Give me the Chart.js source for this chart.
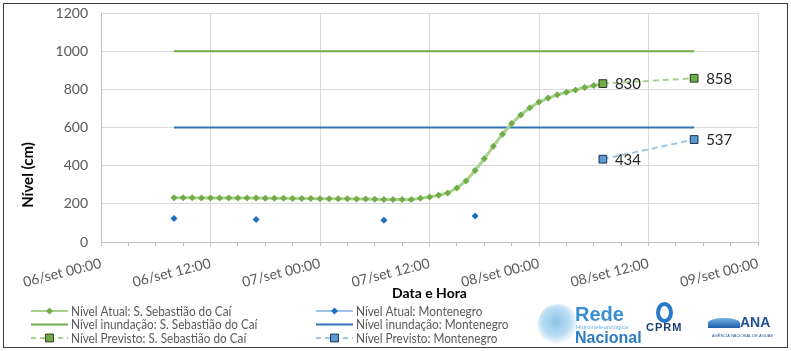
<!DOCTYPE html>
<html>
<head>
<meta charset="utf-8">
<script src="https://cdn.jsdelivr.net/npm/chart.js@4/dist/chart.umd.min.js"></script>
<style>
  body { margin: 0; background: #fff; }
  #wrap { position: relative; width: 791px; height: 351px; }
  .logo { position: absolute; font-family: "Liberation Sans", Arial, sans-serif; white-space: nowrap; }
</style>
</head>
<body>
<div id="wrap">
  <canvas id="nivel" width="791" height="351"></canvas>
  <!-- logos (aproximados em texto) -->
  <div class="logo" style="left:538px;top:304px;width:40px;height:40px;border-radius:50%;background:radial-gradient(circle at 45% 45%, #8cc3e6 0%, #b9dcf2 45%, rgba(255,255,255,0) 72%);"></div>
  <div class="logo" style="left:575px;top:303px;font-size:20px;font-weight:bold;color:#3a8fd2;">Rede</div>
  <div class="logo" style="left:576px;top:324px;font-size:6px;color:#6ab3e6;">Hidrometeorológica</div>
  <div class="logo" style="left:575px;top:329px;font-size:16px;font-weight:bold;color:#2b7cc1;">Nacional</div>
  <div class="logo" style="left:656px;top:302px;width:9px;height:13px;border:4px solid #2a78c8;border-radius:50%;"></div>
  <div class="logo" style="left:646px;top:321px;font-size:11px;font-weight:bold;color:#1d3f78;letter-spacing:1px;">CPRM</div>
  <div class="logo" style="left:708px;top:318px;width:32px;height:10px;border-radius:50% 50% 0 0;background:linear-gradient(#6fb2e6,#1f5ea8);"></div>
  <div class="logo" style="left:740px;top:314px;font-size:14px;font-weight:bold;color:#1f4e96;">ANA</div>
  <div class="logo" style="left:712px;top:333px;font-size:4px;color:#1f4e96;">AGÊNCIA NACIONAL DE ÁGUAS</div>
</div>
<script>
// eixo x: horas desde 06/set 00:00
const tickLabels = ["06/set 00:00", "06/set 12:00", "07/set 00:00", "07/set 12:00", "08/set 00:00", "08/set 12:00", "09/set 00:00"];

// Nível Atual: S. Sebastião do Caí (horário, a partir de 06/set 08:00)
const caiStartHour = 8;
const caiAtual = [232, 232, 232, 231, 231, 231, 230, 230, 230, 230,
                  229, 229, 229, 228, 228, 228, 227, 227, 226, 226,
                  225, 225, 224, 223, 223, 223, 223, 229, 236, 245,
                  257, 283, 320, 375, 436, 502, 565, 621, 666, 703,
                  733, 754, 771, 785, 797, 810, 820];

// Nível Atual: Montenegro
const monHours = [8, 17, 31, 41];
const monAtual = [123, 118, 114, 136];

// Nível Previsto
const previstoHours = [55, 65];
const caiPrevisto = [830, 858];
const monPrevisto = [434, 537];

// Nível inundação
const inundacaoHours = [8, 65];
const caiInundacao = [1000, 1000];
const monInundacao = [600, 600];

const verdeClaro = "#a9d18e", verde = "#70ad47";
const azulClaro = "#9dc3e6", azul = "#2e75b6";

const caiAtualPts = caiAtual.map((v, i) => ({ x: caiStartHour + i, y: v }));
const lastCai = caiAtualPts[caiAtualPts.length - 1];

const datasets = [
  {
    label: "Nível Atual: S. Sebastião do Caí",
    data: caiAtualPts,
    borderColor: verdeClaro, borderWidth: 3,
    pointStyle: "rectRot", pointRadius: 3.5,
    pointBackgroundColor: verde, pointBorderColor: verde, pointBorderWidth: 0
  },
  {
    label: "Nível inundação: S. Sebastião do Caí",
    data: inundacaoHours.map((h, i) => ({ x: h, y: caiInundacao[i] })),
    borderColor: verde, borderWidth: 2, pointRadius: 0
  },
  {
    label: "Nível Previsto: S. Sebastião do Caí",
    data: [{ x: lastCai.x, y: lastCai.y, link: true }].concat(previstoHours.map((h, i) => ({ x: h, y: caiPrevisto[i] }))),
    borderColor: verdeClaro, borderWidth: 2, borderDash: [6, 4],
    segment: { borderDash: c => c.p0DataIndex === 0 ? [] : [6, 4], borderWidth: c => c.p0DataIndex === 0 ? 3 : 2 },
    pointStyle: "rect", pointRadius: c => (c.raw && c.raw.link) ? 0 : 5.5,
    pointBackgroundColor: verde, pointBorderColor: "#2b3a22", pointBorderWidth: 1,
    showValues: true
  },
  {
    label: "Nível Atual: Montenegro",
    data: monHours.map((h, i) => ({ x: h, y: monAtual[i] })),
    showLine: false,
    borderColor: azulClaro, borderWidth: 2,
    pointStyle: "rectRot", pointRadius: 3.5,
    pointBackgroundColor: "#1f6fc0", pointBorderColor: "#1f6fc0", pointBorderWidth: 0
  },
  {
    label: "Nível inundação: Montenegro",
    data: inundacaoHours.map((h, i) => ({ x: h, y: monInundacao[i] })),
    borderColor: azul, borderWidth: 2, pointRadius: 0
  },
  {
    label: "Nível Previsto: Montenegro",
    data: previstoHours.map((h, i) => ({ x: h, y: monPrevisto[i] })),
    borderColor: azulClaro, borderWidth: 2, borderDash: [6, 4],
    pointStyle: "rect", pointRadius: 5.5,
    pointBackgroundColor: "#5b9bd5", pointBorderColor: "#1f2f4a", pointBorderWidth: 1,
    showValues: true
  }
];

// ordem da legenda: coluna esquerda (Caí), coluna direita (Montenegro)
const legendOrder = [[0, 1, 2], [3, 4, 5]];

function drawMarker(ctx, style, x, y, r, fill, stroke, bw) {
  ctx.beginPath();
  if (style === "rectRot") {
    ctx.moveTo(x, y - r); ctx.lineTo(x + r, y); ctx.lineTo(x, y + r); ctx.lineTo(x - r, y);
  } else {
    const s = r * Math.SQRT1_2;
    ctx.rect(x - s, y - s, 2 * s, 2 * s);
  }
  ctx.closePath();
  ctx.fillStyle = fill;
  ctx.fill();
  if (bw) { ctx.lineWidth = bw; ctx.strokeStyle = stroke; ctx.stroke(); }
}

const extras = {
  id: "extras",
  afterDatasetsDraw(chart) {
    const ctx = chart.ctx;
    // rótulos dos valores previstos
    ctx.save();
    ctx.font = "15px Lato";
    ctx.fillStyle = "#262626";
    ctx.textBaseline = "middle";
    chart.data.datasets.forEach((ds, i) => {
      if (!ds.showValues) return;
      chart.getDatasetMeta(i).data.forEach((el, j) => {
        const raw = ds.data[j];
        if (raw.link) return;
        ctx.fillText(String(raw.y), el.x + 12, el.y + 1);
      });
    });
    ctx.restore();
  },
  afterDraw(chart) {
    const ctx = chart.ctx;
    const area = chart.chartArea;
    ctx.save();
    // título do eixo y
    ctx.translate(area.left - 73, area.top + 162);
    ctx.rotate(-Math.PI / 2);
    ctx.font = "bold 15px Lato";
    ctx.fillStyle = "#000";
    ctx.textAlign = "center";
    ctx.textBaseline = "middle";
    ctx.fillText("Nível (cm)", 0, 0);
    ctx.restore();

    // legenda
    ctx.save();
    ctx.font = "14px Lato";
    ctx.textBaseline = "middle";
    const colX = [31, 316], rowY = [311, 324.5, 338];
    legendOrder.forEach((col, c) => {
      col.forEach((di, r) => {
        const ds = chart.data.datasets[di];
        const x0 = colX[c], y = rowY[r];
        ctx.beginPath();
        ctx.setLineDash(ds.borderDash ? [5, 4] : []);
        ctx.strokeStyle = ds.borderColor;
        ctx.lineWidth = 2;
        ctx.moveTo(x0, y); ctx.lineTo(x0 + 37, y);
        ctx.stroke();
        ctx.setLineDash([]);
        if (ds.pointStyle) {
          drawMarker(ctx, ds.pointStyle, x0 + 18.5, y, ds.pointStyle === "rect" ? 5.5 : 3.5,
            ds.pointBackgroundColor, ds.pointBorderColor, ds.pointBorderWidth);
        }
        // texto um pouco condensado (parecido com Calibri)
        ctx.save();
        ctx.translate(x0 + 40, y);
        ctx.scale(0.84, 1);
        ctx.fillStyle = "#595959";
        ctx.fillText(ds.label, 0, 0);
        ctx.restore();
      });
    });
    ctx.restore();

    // moldura
    ctx.save();
    ctx.strokeStyle = "#3c3c3c";
    ctx.lineWidth = 1;
    ctx.strokeRect(3.5, 3.5, 784, 344);
    ctx.restore();
  }
};

new Chart(document.getElementById("nivel"), {
  type: "line",
  data: { datasets: datasets },
  options: {
    responsive: false,
    animation: false,
    devicePixelRatio: 1,
    layout: { padding: { left: 0, top: 13, right: 33, bottom: 49 } },
    plugins: { legend: { display: false }, tooltip: { enabled: false } },
    scales: {
      x: {
        type: "linear", min: 0, max: 72,
        afterFit: s => { s.height = 60; },
        border: { color: "#bfbfbf" },
        grid: {
          color: c => (c.tick && c.tick.value % 12 === 0) ? "#d9d9d9" : "rgba(0,0,0,0)",
          tickColor: "#bfbfbf", tickLength: 4
        },
        ticks: {
          stepSize: 3, autoSkip: false, minRotation: 14, maxRotation: 14,
          padding: 9,
          color: "#595959", font: { family: "Lato", size: 14 },
          callback: v => v % 12 === 0 ? tickLabels[v / 12] : ""
        },
        title: {
          display: true, text: "Data e Hora", color: "#000",
          font: { family: "Lato", size: 14, weight: "bold" }, padding: 0
        }
      },
      y: {
        min: 0, max: 1200,
        afterFit: s => { s.width = 101; s.paddingTop = 0; s.paddingBottom = 0; },
        border: { color: "#bfbfbf" },
        grid: { color: "#d9d9d9", drawTicks: false },
        ticks: {
          stepSize: 200, padding: 13,
          color: "#595959", font: { family: "Lato", size: 14 },
          callback: v => String(v)
        }
      }
    }
  },
  plugins: [extras]
});
</script>
</body>
</html>
